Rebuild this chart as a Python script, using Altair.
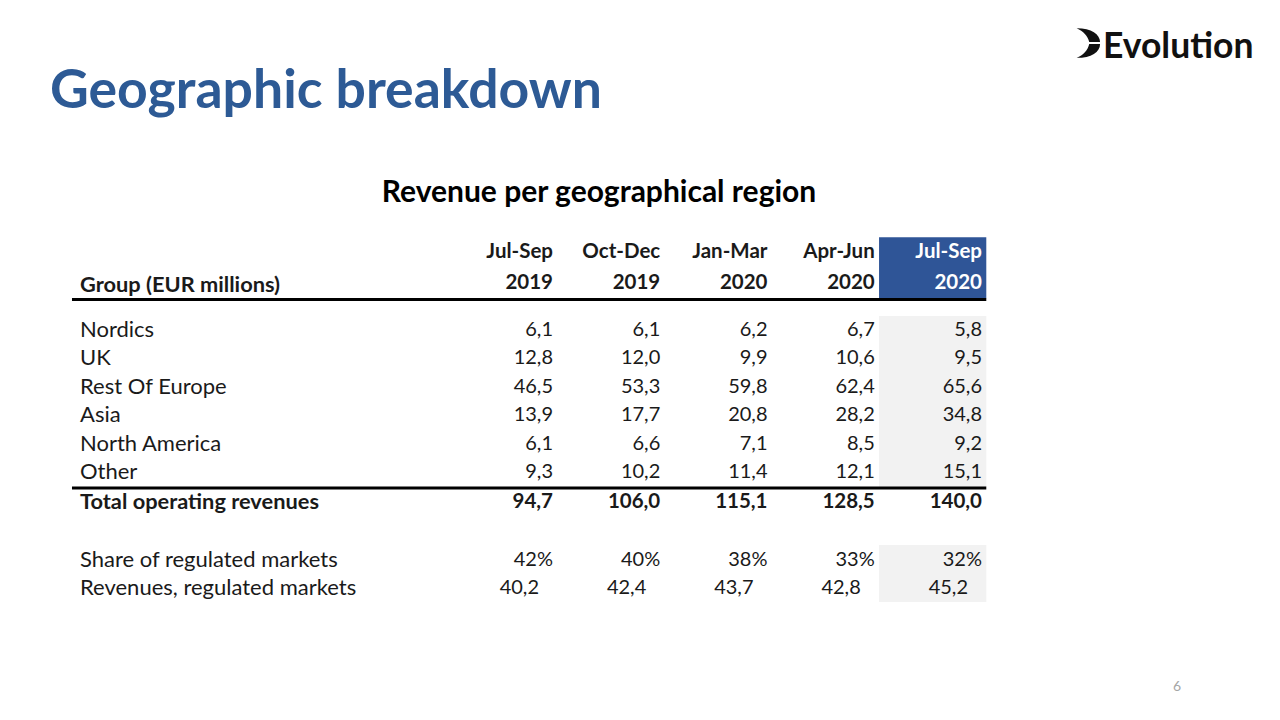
import altair as alt
import pandas as pd

# ---------------- data ----------------
regions = ["Nordics", "UK", "Rest Of Europe", "Asia", "North America", "Other"]
period_top = ["Jul-Sep", "Oct-Dec", "Jan-Mar", "Apr-Jun", "Jul-Sep"]
period_year = ["2019", "2019", "2020", "2020", "2020"]
nordics = [6.1, 6.1, 6.2, 6.7, 5.8]
uk = [12.8, 12.0, 9.9, 10.6, 9.5]
rest_of_europe = [46.5, 53.3, 59.8, 62.4, 65.6]
asia = [13.9, 17.7, 20.8, 28.2, 34.8]
north_america = [6.1, 6.6, 7.1, 8.5, 9.2]
other = [9.3, 10.2, 11.4, 12.1, 15.1]
total = [94.7, 106.0, 115.1, 128.5, 140.0]
share_regulated = [42, 40, 38, 33, 32]
revenues_regulated = [40.2, 42.4, 43.7, 42.8, 45.2]

page_title = "Geographic breakdown"
table_title = "Revenue per geographical region"
group_label = "Group (EUR millions)"
total_label = "Total operating revenues"
share_label = "Share of regulated markets"
rev_label = "Revenues, regulated markets"
brand = "Evolution"
page_no = "6"

# ---------------- layout (row slots / column units) ----------------
W, H = 1264, 704
FONT = "Lato"
BLUE = "#2F5597"
SLOT_H1, SLOT_H2, SLOT_GROUP = -2.75, -1.66, -1.6
SLOT_TOTAL, SLOT_SHARE, SLOT_REV = 6.06, 8.1, 9.08

XS = alt.Scale(domain=[1, 5], range=[545, 974], zero=False, nice=False)
YS = alt.Scale(domain=[0, 10], range=[322, 606], zero=False, nice=False)


def fmt(v):
    return f"{v:.1f}".replace(".", ",")


region_values = [nordics, uk, rest_of_europe, asia, north_america, other]

# body cells
body = []
for r, vals in enumerate(region_values):
    for c, v in enumerate(vals):
        body.append({"slot": r, "col": c + 1, "t": fmt(v)})
for c, v in enumerate(share_regulated):
    body.append({"slot": SLOT_SHARE, "col": c + 1, "t": f"{v}%"})
body_df = pd.DataFrame(body)
rev_df = pd.DataFrame({"slot": SLOT_REV, "col": list(range(1, 6)),
                       "t": [fmt(v) for v in revenues_regulated]})

total_df = pd.DataFrame({"slot": SLOT_TOTAL, "col": list(range(1, 6)),
                         "t": [fmt(v) for v in total]})
head = []
for c in range(4):
    head.append({"slot": SLOT_H1, "col": c + 1, "t": period_top[c]})
    head.append({"slot": SLOT_H2, "col": c + 1, "t": period_year[c]})
head_df = pd.DataFrame(head)
white_df = pd.DataFrame({"slot": [SLOT_H1, SLOT_H2], "col": [5, 5],
                         "t": [period_top[4], period_year[4]]})

labels_df = pd.DataFrame({"slot": list(range(6)) + [SLOT_SHARE, SLOT_REV],
                          "t": regions + [share_label, rev_label]})
bold_labels_df = pd.DataFrame({"slot": [SLOT_GROUP, SLOT_TOTAL],
                               "t": [group_label, total_label]})

rect_df = pd.DataFrame({
    "x": [4.04, 4.04, 4.04], "x2": [5.04, 5.04, 5.04],
    "y": [-0.49, 7.57, -3.27], "y2": [5.53, 9.58, -1.12],
    "fill": ["#F2F2F2", "#F2F2F2", BLUE]})
rule_df = pd.DataFrame({"x": [-3.485, -3.485], "x2": [5.04, 5.04],
                        "y": [-1.07, 5.56]})

X = lambda: alt.X("col:Q", scale=XS, axis=None)
Y = lambda: alt.Y("slot:Q", scale=YS, axis=None)

rects = alt.Chart(rect_df).mark_rect().encode(
    x=alt.X("x:Q", scale=XS, axis=None), x2="x2:Q",
    y=alt.Y("y:Q", scale=YS, axis=None), y2="y2:Q",
    color=alt.Color("fill:N", scale=None))
rules = alt.Chart(rule_df).mark_rule(strokeWidth=3, color="black").encode(
    x=alt.X("x:Q", scale=XS, axis=None), x2="x2:Q",
    y=alt.Y("y:Q", scale=YS, axis=None))

tkw = dict(font=FONT, baseline="middle", color="#1a1a1a")
body_l = alt.Chart(body_df).mark_text(align="right", fontSize=20, **tkw).encode(
    x=X(), y=Y(), text="t:N")
rev_l = alt.Chart(rev_df).mark_text(align="right", dx=-14, fontSize=20, **tkw).encode(
    x=X(), y=Y(), text="t:N")
total_l = alt.Chart(total_df).mark_text(align="right", fontWeight="bold", fontSize=20.5,
                                        **tkw).encode(x=X(), y=Y(), text="t:N")
head_l = alt.Chart(head_df).mark_text(align="right", fontWeight="bold", fontSize=20.5,
                                      **tkw).encode(x=X(), y=Y(), text="t:N")
white_l = alt.Chart(white_df).mark_text(align="right", font=FONT, fontSize=20.5,
                                        baseline="middle", color="white",
                                        fontWeight="bold").encode(x=X(), y=Y(), text="t:N")
labels_l = alt.Chart(labels_df).mark_text(align="left", fontSize=22, **tkw).encode(
    x=alt.value(72), y=Y(), text="t:N")
bold_labels_l = alt.Chart(bold_labels_df).mark_text(align="left", fontWeight="bold",
                                                    fontSize=21.8, **tkw).encode(
    x=alt.value(72), y=Y(), text="t:N")

title_l = alt.Chart(pd.DataFrame({"t": [page_title]})).mark_text(
    align="left", baseline="alphabetic", font=FONT, fontSize=53.5, fontWeight="bold",
    color="#2D5A95").encode(x=alt.value(42), y=alt.value(100), text="t:N")
subtitle_l = alt.Chart(pd.DataFrame({"t": [table_title]})).mark_text(
    align="center", baseline="middle", font=FONT, fontSize=30, fontWeight="bold",
    color="black").encode(x=alt.value(591), y=alt.value(185), text="t:N")
brand_l = alt.Chart(pd.DataFrame({"t": [brand]})).mark_text(
    align="left", baseline="alphabetic", font=FONT, fontSize=35.5, fontWeight="bold",
    color="#111111").encode(x=alt.value(1095), y=alt.value(50), text="t:N")
icon_path = ("M -0.8 -1 C 0.2 -1 0.78 -0.6 0.78 -0.06 L 0.05 -0.06 "
             "C -0.05 -0.5 -0.35 -0.8 -0.8 -1 Z "
             "M -0.8 1 C 0.2 1 0.78 0.6 0.78 0.06 L 0.05 0.06 "
             "C -0.05 0.5 -0.35 0.8 -0.8 1 Z")
icon_l = alt.Chart(pd.DataFrame({"t": [brand]})).mark_point(
    shape=icon_path, filled=True, color="#111111", opacity=1, size=880).encode(
    x=alt.value(1080.5), y=alt.value(35))
page_l = alt.Chart(pd.DataFrame({"t": [page_no]})).mark_text(
    align="center", baseline="middle", font=FONT, fontSize=14, color="#A6A6A6").encode(
    x=alt.value(1169), y=alt.value(679), text="t:N")

chart = alt.layer(
    rects, rules, body_l, rev_l, total_l, head_l, white_l, labels_l, bold_labels_l,
    title_l, subtitle_l, brand_l, icon_l, page_l,
).properties(
    width=W, height=H, padding=0, autosize=alt.AutoSizeParams(type="none"),
    background="white",
).configure_view(stroke=None)

chart.save("out.html", embed_options={"renderer": "svg", "actions": False})
